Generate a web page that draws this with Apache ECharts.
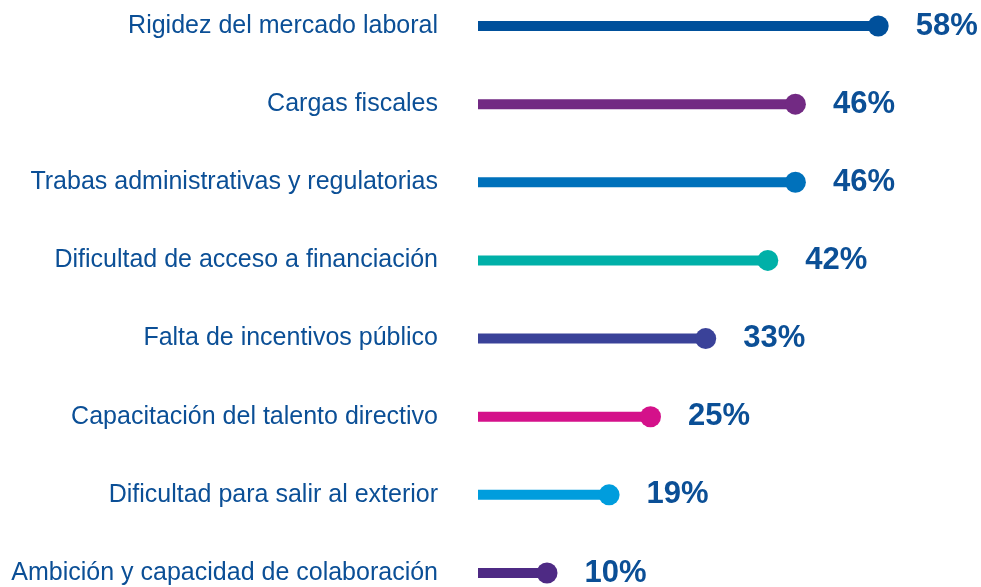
<!DOCTYPE html>
<html>
<head>
<meta charset="utf-8">
<script src="https://cdn.jsdelivr.net/npm/echarts@6/dist/echarts.min.js"></script>
<style>
  html, body { margin: 0; padding: 0; background: #fff; }
  #chart { width: 981px; height: 587px; }
</style>
</head>
<body>
<div id="chart"></div>
<script>
// categories top to bottom
var categories = [
  'Rigidez del mercado laboral',
  'Cargas fiscales',
  'Trabas administrativas y regulatorias',
  'Dificultad de acceso a financiación',
  'Falta de incentivos público',
  'Capacitación del talento directivo',
  'Dificultad para salir al exterior',
  'Ambición y capacidad de colaboración'
]
var values = [58, 46, 46, 42, 33, 25, 19, 10]
var colors = ['#00509b', '#722a83', '#0071bb', '#00b0a8', '#3a4299', '#d4118a', '#009ddd', '#4e2a84']

var textBlue = '#0b4f96'

var chart = echarts.init(document.getElementById('chart'))
chart.setOption({
  animation: false,
  grid: {
    left: 478,
    top: 26,
    bottom: 14,
    width: 483
  },
  xAxis: {
    type: 'value',
    min: 0,
    max: 70,
    show: false
  },
  yAxis: {
    type: 'category',
    inverse: true,
    boundaryGap: false,
    data: categories,
    axisLine: { show: false },
    axisTick: { show: false },
    splitLine: { show: false },
    axisLabel: {
      margin: 40,
      color: textBlue,
      fontSize: 25,
      fontFamily: 'Liberation Sans, Arial, sans-serif'
    }
  },
  series: [
    {
      // the stick
      type: 'bar',
      barWidth: 10,
      data: values.map(function (v, i) {
        return { value: v, itemStyle: { color: colors[i] } }
      }),
      silent: true
    },
    {
      // the dot + value label
      type: 'scatter',
      symbol: 'circle',
      symbolSize: 21,
      z: 3,
      data: values.map(function (v, i) {
        return { value: [v, i], itemStyle: { color: colors[i], opacity: 1 } }
      }),
      label: {
        show: true,
        position: 'right',
        distance: 27,
        color: textBlue,
        fontSize: 31,
        fontWeight: 'bold',
        fontFamily: 'Liberation Sans, Arial, sans-serif',
        formatter: function (p) {
          return p.value[0] + '%'
        }
      }
    }
  ]
})
</script>
</body>
</html>
